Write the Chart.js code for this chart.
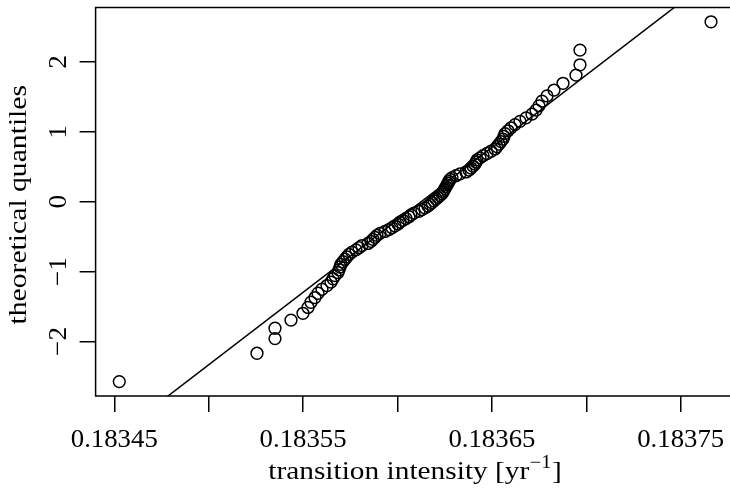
<!DOCTYPE html>
<html>
<head>
<meta charset="utf-8">
<script src="https://cdn.jsdelivr.net/npm/chart.js@4.4.0/dist/chart.umd.min.js"></script>
<style>
  html, body { margin: 0; padding: 0; background: #fff; overflow: hidden; }
  #wrap { width: 730px; height: 497px; overflow: hidden; }
</style>
</head>
<body>
<div id="wrap"><canvas id="chart" width="760" height="497"></canvas></div>
<script>
// sorted sample (transition intensity)
const sampleX = [
  0.18345265, 0.18352558, 0.18353512, 0.18353512, 0.18354359, 0.18354995, 0.18355260, 0.18355418, 0.18355630, 0.18355789,
  0.18356001, 0.18356266, 0.18356478, 0.18356584, 0.18356690, 0.18356849, 0.18356902, 0.18356954, 0.18357007, 0.18357113,
  0.18357219, 0.18357325, 0.18357431, 0.18357590, 0.18357802, 0.18357961, 0.18358120, 0.18358438, 0.18358596, 0.18358702,
  0.18358808, 0.18358914, 0.18359073, 0.18359338, 0.18359550, 0.18359709, 0.18359868, 0.18360027, 0.18360132, 0.18360291,
  0.18360450, 0.18360609, 0.18360715, 0.18360874, 0.18361139, 0.18361298, 0.18361457, 0.18361615, 0.18361721, 0.18361827,
  0.18361933, 0.18362039, 0.18362145, 0.18362251, 0.18362357, 0.18362410, 0.18362463, 0.18362516, 0.18362569, 0.18362622,
  0.18362675, 0.18362728, 0.18362781, 0.18362887, 0.18363098, 0.18363310, 0.18363628, 0.18363787, 0.18363893, 0.18363999,
  0.18364105, 0.18364158, 0.18364211, 0.18364370, 0.18364529, 0.18364741, 0.18364952, 0.18365164, 0.18365270, 0.18365376,
  0.18365482, 0.18365588, 0.18365641, 0.18365694, 0.18365853, 0.18366012, 0.18366223, 0.18366488, 0.18366806, 0.18367124,
  0.18367336, 0.18367495, 0.18367654, 0.18367919, 0.18368289, 0.18368766, 0.18369454, 0.18369666, 0.18369666, 0.18376605
];

// theoretical normal quantiles, same order
const theoQ = [
  -2.5758, -2.1701, -1.9600, -1.8119, -1.6954, -1.5982, -1.5141, -1.4395, -1.3722, -1.3106,
  -1.2536, -1.2004, -1.1503, -1.1031, -1.0581, -1.0152, -0.9741, -0.9346, -0.8965, -0.8596,
  -0.8239, -0.7892, -0.7554, -0.7225, -0.6903, -0.6588, -0.6280, -0.5978, -0.5681, -0.5388,
  -0.5101, -0.4817, -0.4538, -0.4261, -0.3989, -0.3719, -0.3451, -0.3186, -0.2924, -0.2663,
  -0.2404, -0.2147, -0.1891, -0.1637, -0.1383, -0.1130, -0.0878, -0.0627, -0.0376, -0.0125,
   0.0125,  0.0376,  0.0627,  0.0878,  0.1130,  0.1383,  0.1637,  0.1891,  0.2147,  0.2404,
   0.2663,  0.2924,  0.3186,  0.3451,  0.3719,  0.3989,  0.4261,  0.4538,  0.4817,  0.5101,
   0.5388,  0.5681,  0.5978,  0.6280,  0.6588,  0.6903,  0.7225,  0.7554,  0.7892,  0.8239,
   0.8596,  0.8965,  0.9346,  0.9741,  1.0152,  1.0581,  1.1031,  1.1503,  1.2004,  1.2536,
   1.3106,  1.3722,  1.4395,  1.5141,  1.5982,  1.6954,  1.8119,  1.9600,  2.1701,  2.5758
];

// reference line (qqline), ends past the plot box, clipped
const lineX = [0.18346795, 0.18375715];
const lineY = [-3, 3];

const xTickValues = [0.18345, 0.18350, 0.18355, 0.18360, 0.18365, 0.18370, 0.18375];
const xTickLabels = ['0.18345', '', '0.18355', '', '0.18365', '', '0.18375'];
const yTickValues = [-2, -1, 0, 1, 2];
const yTickLabels = ['\u22122', '\u22121', '0', '1', '2'];

const FONT = '"Liberation Serif", "DejaVu Serif", serif';
// plot box on the page; its right edge falls just off the window
const BOX = { left: 95.6, right: 734.7, bottom: 396 };
const VIEW_W = 730;

// R style axis limits: data range +4%
function extRange(arr) {
  const lo = Math.min(...arr), hi = Math.max(...arr);
  const d = (hi - lo) * 0.04;
  return [lo - d, hi + d];
}
const xLim = extRange(sampleX);
const yLim = extRange(theoQ);

const points = sampleX.map((x, i) => ({ x: x, y: theoQ[i] }));
const linePts = lineX.map((x, i) => ({ x: x, y: lineY[i] }));

// text stretched a bit sideways, Computer Modern runs wider than Times
function wideText(ctx, txt, x, y, sx) {
  ctx.save();
  ctx.translate(x, y);
  ctx.scale(sx, 1);
  ctx.fillText(txt, 0, 0);
  ctx.restore();
}

const rPlot = {
  id: 'rPlot',
  afterDraw(chart) {
    const ctx = chart.ctx, a = chart.chartArea;
    const xs = chart.scales.x, ys = chart.scales.y;
    ctx.save();
    ctx.strokeStyle = '#000';
    ctx.lineWidth = 1.5;
    ctx.beginPath();
    ctx.moveTo(a.right, a.top);
    ctx.lineTo(a.left, a.top);
    ctx.lineTo(a.left, a.bottom);
    ctx.lineTo(a.right, a.bottom);
    if (a.right < VIEW_W) ctx.lineTo(a.right, a.top);
    ctx.stroke();

    ctx.fillStyle = '#000';
    ctx.font = '26px ' + FONT;
    ctx.textAlign = 'center';
    ctx.textBaseline = 'alphabetic';
    xTickValues.forEach((v, i) => {
      if (xTickLabels[i]) wideText(ctx, xTickLabels[i], xs.getPixelForValue(v), 447, 1.03);
    });
    yTickValues.forEach((v, i) => {
      ctx.save();
      ctx.translate(66, ys.getPixelForValue(v));
      ctx.rotate(-Math.PI / 2);
      wideText(ctx, yTickLabels[i], 0, 0, 1.05);
      ctx.restore();
    });

    // y title
    ctx.save();
    ctx.translate(26, (a.top + a.bottom) / 2 + 3);
    ctx.rotate(-Math.PI / 2);
    wideText(ctx, 'theoretical quantiles', 0, 0, 1.14);
    ctx.restore();

    // x title with superscript
    const sx = 1.13;
    const t1 = 'transition intensity [yr', sup = '\u22121', t2 = ']';
    ctx.font = '26px ' + FONT;
    const w1 = ctx.measureText(t1).width * sx, w3 = ctx.measureText(t2).width * sx;
    ctx.font = '18px ' + FONT;
    const w2 = ctx.measureText(sup).width * sx;
    const x0 = 415 - (w1 + w2 + w3 + 1) / 2;
    const base = 479;
    ctx.textAlign = 'left';
    ctx.font = '26px ' + FONT;
    wideText(ctx, t1, x0, base, sx);
    ctx.font = '18px ' + FONT;
    wideText(ctx, sup, x0 + w1 + 0.5, base - 11, sx);
    ctx.font = '26px ' + FONT;
    wideText(ctx, t2, x0 + w1 + w2 + 1, base, sx);
    ctx.restore();
  }
};

const canvas = document.getElementById('chart');
new Chart(canvas, {
  type: 'scatter',
  data: {
    datasets: [
      {
        label: 'sample',
        data: points,
        pointStyle: 'circle',
        pointRadius: 5.9,
        pointHoverRadius: 5.9,
        borderColor: '#000',
        backgroundColor: 'rgba(0,0,0,0)',
        borderWidth: 1.5
      },
      {
        label: 'qqline',
        type: 'line',
        data: linePts,
        borderColor: '#000',
        borderWidth: 1.5,
        pointRadius: 0,
        fill: false
      }
    ]
  },
  options: {
    responsive: false,
    animation: false,
    devicePixelRatio: 1,
    layout: { padding: { top: 0, right: canvas.width - BOX.right, left: 0, bottom: 0 } },
    plugins: { legend: { display: false }, tooltip: { enabled: false } },
    scales: {
      x: {
        type: 'linear',
        min: xLim[0],
        max: xLim[1],
        afterBuildTicks: s => { s.ticks = xTickValues.map(v => ({ value: v })); },
        afterFit: s => { s.height = 497 - BOX.bottom; },
        ticks: { display: false },
        border: { display: false },
        grid: { drawOnChartArea: false, drawTicks: true, tickLength: 16, color: '#000', lineWidth: 1.5 }
      },
      y: {
        type: 'linear',
        min: yLim[0],
        max: yLim[1],
        afterBuildTicks: s => { s.ticks = yTickValues.map(v => ({ value: v })); },
        afterFit: s => { s.width = BOX.left; },
        ticks: { display: false },
        border: { display: false },
        grid: { drawOnChartArea: false, drawTicks: true, tickLength: 16, color: '#000', lineWidth: 1.5 }
      }
    }
  },
  plugins: [rPlot]
});
</script>
</body>
</html>
